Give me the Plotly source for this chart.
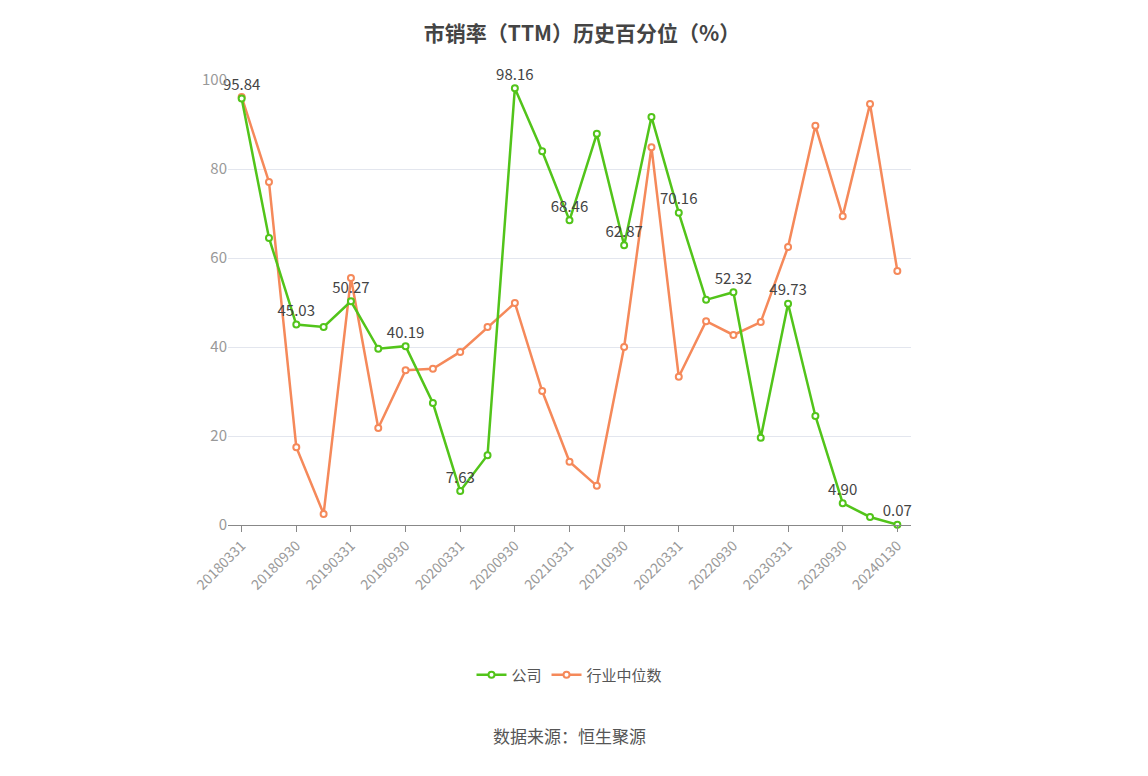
import plotly.graph_objects as go

dates = ["20180331","20180630","20180930","20181231","20190331","20190630","20190930","20191231",
         "20200331","20200630","20200930","20201231","20210331","20210630","20210930","20211231",
         "20220331","20220630","20220930","20221231","20230331","20230630","20230930","20231231","20240130"]
company = [95.84,64.5,45.03,44.5,50.27,39.6,40.19,27.4,7.63,15.7,98.16,84.0,68.46,87.9,62.87,91.7,
           70.16,50.6,52.32,19.6,49.73,24.5,4.90,1.8,0.07]
industry = [96.2,77.1,17.5,2.5,55.5,21.8,34.8,35.1,38.9,44.5,49.9,30.1,14.2,8.8,40.0,84.9,
            33.3,45.8,42.7,45.6,62.5,89.7,69.4,94.6,57.1]

labels = [f"{v:.2f}" if i % 2 == 0 else "" for i, v in enumerate(company)]
font = "Noto Sans CJK SC"
fig = go.Figure()
fig.add_trace(go.Scatter(x=dates, y=industry, name="行业中位数", mode="lines+markers",
    line=dict(color="#f5895a", width=2.5), cliponaxis=False,
    marker=dict(size=6, color="white", line=dict(color="#f5895a", width=2))))
fig.add_trace(go.Scatter(x=dates, y=company, name="公司", mode="lines+markers+text",
    line=dict(color="#52c41a", width=2.5), cliponaxis=False,
    marker=dict(size=6, color="white", line=dict(color="#52c41a", width=2)),
    text=labels, textposition="top center", textfont=dict(size=15, color="#444")))
fig.update_layout(
    width=1148, height=776, plot_bgcolor="white", paper_bgcolor="white",
    font=dict(family=font, color="#666"),
    title=dict(text="<b>市销率（TTM）历史百分位（%）</b>", x=0.5, y=0.977, xanchor="center",
               font=dict(size=21, color="#444")),
    margin=dict(l=220, r=245, t=72, b=259),
    xaxis=dict(type="category", tickvals=dates[::2], tickangle=-45, showgrid=False,
               showline=True, linecolor="#888", ticks="outside", ticklen=6, tickcolor="#888",
               tickfont=dict(size=14, color="#999"), range=[-0.5, 24.5]),
    yaxis=dict(range=[0, 100], dtick=20, gridcolor="#e3e6ee", zeroline=False,
               tickfont=dict(size=15, color="#999")),
    legend=dict(orientation="h", x=0.5, xanchor="center", y=-0.30, yanchor="top",
                traceorder="reversed", font=dict(size=15, color="#555")),
    showlegend=True,
)
fig.add_annotation(text="数据来源：恒生聚源", x=0.5, xref="paper", y=-0.505, yref="paper",
                   showarrow=False, font=dict(size=17, color="#555"))
fig.write_html("out.html")
